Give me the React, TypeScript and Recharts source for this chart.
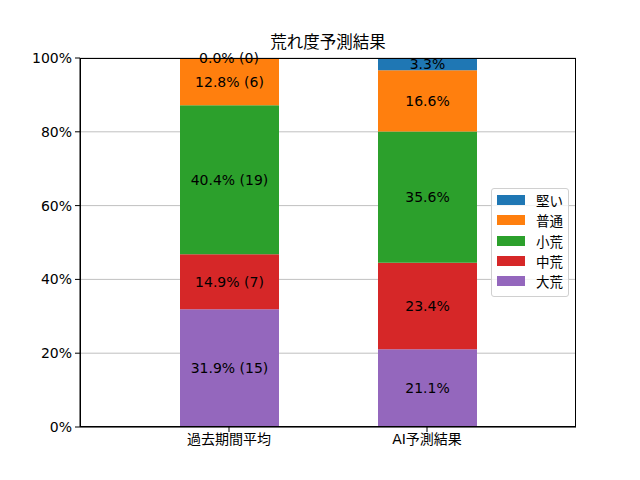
import React from "react";
import {
  BarChart,
  Bar,
  XAxis,
  YAxis,
  CartesianGrid,
  LabelList,
  ReferenceDot,
} from "recharts";

const categories = ["過去期間平均", "AI予測結果"];

// percentages per category (bottom to top in the stack)
const daiKou = [31.9, 21.1];
const chuKou = [14.9, 23.4];
const shoKou = [40.4, 35.6];
const futsu = [12.8, 16.6];
const katai = [0.0, 3.3];

// race counts (only shown for the past-period bar)
const daiKouCount = [15, null];
const chuKouCount = [7, null];
const shoKouCount = [19, null];
const futsuCount = [6, null];
const kataiCount = [0, null];

const yTicks = [0, 20, 40, 60, 80, 100];

const series = [
  { key: "katai", name: "堅い", color: "#1f77b4", values: katai, counts: kataiCount },
  { key: "futsu", name: "普通", color: "#ff7f0e", values: futsu, counts: futsuCount },
  { key: "shoKou", name: "小荒", color: "#2ca02c", values: shoKou, counts: shoKouCount },
  { key: "chuKou", name: "中荒", color: "#d62728", values: chuKou, counts: chuKouCount },
  { key: "daiKou", name: "大荒", color: "#9467bd", values: daiKou, counts: daiKouCount },
];

const stackOrder = [...series].reverse();

const labelText = (v: number, c: number | null) =>
  v.toFixed(1) + "%" + (c === null ? "" : ` (${c})`);

const chartData = categories.map((name, i) => {
  const row: Record<string, any> = { name };
  series.forEach((s) => {
    row[s.key] = s.values[i];
    row[s.key + "Label"] = labelText(s.values[i], s.counts[i]);
  });
  return row;
});

// zero-height segments get no rectangle, so their labels go on a reference dot
const zeroLabels: { cat: string; y: number; text: string }[] = [];
categories.forEach((cat, i) => {
  let base = 0;
  stackOrder.forEach((s) => {
    const v = s.values[i];
    if (v === 0) zeroLabels.push({ cat, y: base, text: labelText(v, s.counts[i]) });
    base += v;
  });
});

const FONT = '"DejaVu Sans", "Noto Sans CJK JP", sans-serif';
const FS = 14;

const PLOT = { left: 80, top: 58, width: 496, height: 369 };

const SegmentLabel = (props: any) => {
  const { x, y, width, height, value } = props;
  if (value === undefined || value === null) return null;
  return (
    <text
      x={x + width / 2}
      y={y + height / 2}
      textAnchor="middle"
      dominantBaseline="central"
      fill="#000"
      fontSize={FS}
      fontFamily={FONT}
    >
      {value}
    </text>
  );
};

const App: React.FC = () => {
  return (
    <div
      style={{
        position: "absolute",
        left: 0,
        top: 0,
        width: 640,
        height: 480,
        background: "#fff",
        fontFamily: FONT,
      }}
    >
      <div
        style={{
          position: "absolute",
          top: 33,
          left: PLOT.left,
          width: PLOT.width,
          textAlign: "center",
          fontSize: 16.5,
          lineHeight: "20px",
          color: "#000",
        }}
      >
        荒れ度予測結果
      </div>
      <BarChart
        width={640}
        height={480}
        data={chartData}
        margin={{ top: 58, right: 64, bottom: 23, left: 30 }}
      >
        <CartesianGrid
          horizontal
          vertical={false}
          stroke="#b0b0b0"
          strokeWidth={0.8}
        />
        <XAxis
          dataKey="name"
          height={30}
          padding={{ left: 50, right: 50 }}
          tickLine={{ stroke: "#000" }}
          axisLine={{ stroke: "#000" }}
          tickSize={5}
          tick={{ fill: "#000", fontSize: FS, fontFamily: FONT }}
        />
        <YAxis
          width={50}
          domain={[0, 100]}
          ticks={yTicks}
          tickFormatter={(v) => `${v}%`}
          tickLine={{ stroke: "#000" }}
          axisLine={{ stroke: "#000" }}
          tickSize={5}
          tickMargin={3}
          tick={{ fill: "#000", fontSize: FS, fontFamily: FONT }}
        />
        {stackOrder.map((s) => (
          <Bar
            key={s.key}
            dataKey={s.key}
            name={s.name}
            stackId="a"
            fill={s.color}
            barSize={99}
            isAnimationActive={false}
          >
            <LabelList dataKey={s.key + "Label"} content={SegmentLabel} />
          </Bar>
        ))}
        {zeroLabels.map((z, i) => (
          <ReferenceDot
            key={i}
            x={z.cat}
            y={z.y}
            r={0}
            stroke="none"
            fill="none"
            ifOverflow="visible"
            label={{
              value: z.text,
              position: "center",
              fill: "#000",
              fontSize: FS,
              fontFamily: FONT,
            }}
          />
        ))}
      </BarChart>
      {/* axes frame (matplotlib spines) */}
      <div
        style={{
          position: "absolute",
          left: PLOT.left,
          top: PLOT.top,
          width: PLOT.width,
          height: PLOT.height,
          border: "1px solid #000",
          boxSizing: "border-box",
          pointerEvents: "none",
        }}
      />
      {/* legend */}
      <div
        style={{
          position: "absolute",
          left: 491,
          top: 188,
          width: 78,
          height: 109,
          background: "rgba(255,255,255,0.8)",
          border: "1px solid #d0d0d0",
          borderRadius: 3,
          padding: "1px 0 0 5px",
          boxSizing: "border-box",
          fontFamily: FONT,
          fontSize: 13.5,
          color: "#000",
          whiteSpace: "nowrap",
        }}
      >
        {series.map((s) => (
          <div
            key={s.key}
            style={{ display: "flex", alignItems: "center", height: 20.3 }}
          >
            <div
              style={{
                width: 28,
                height: 10,
                flexShrink: 0,
                background: s.color,
                marginRight: 11,
              }}
            />
            <span>{s.name}</span>
          </div>
        ))}
      </div>
    </div>
  );
};

export default App;
